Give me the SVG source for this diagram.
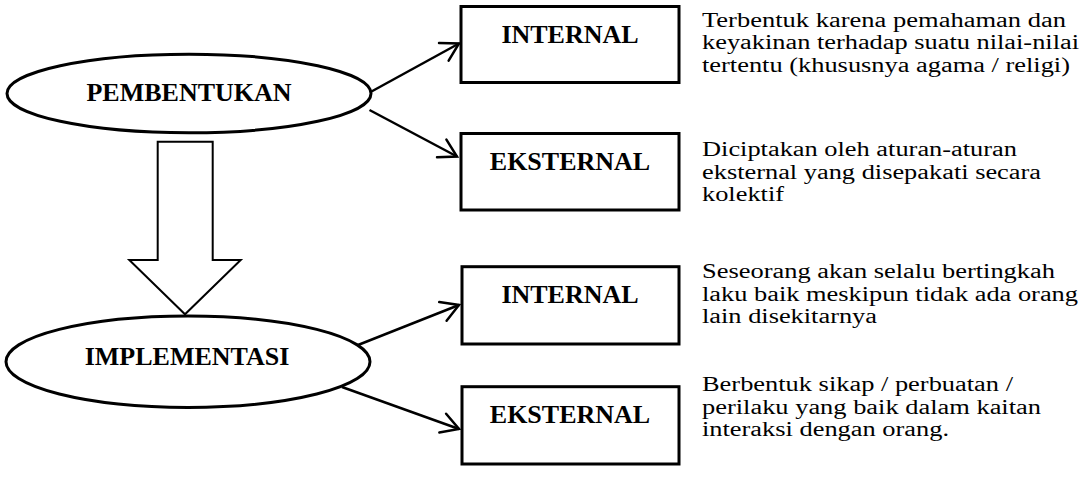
<svg xmlns="http://www.w3.org/2000/svg" width="1084" height="486" viewBox="0 0 1084 486">
<defs>
<style>
.node{fill:#fff;stroke:#000;stroke-width:3}
.lbl{font-family:"Liberation Serif","Times New Roman",serif;font-weight:bold;font-size:26px;fill:#000;text-anchor:middle}
.desc{font-family:"Liberation Serif","Times New Roman",serif;font-size:20.5px;fill:#000}
.conn{stroke:#000;stroke-width:2.5;fill:none;marker-end:url(#arr)}
</style>
<marker id="arr" markerUnits="userSpaceOnUse" viewBox="-20 -12 22 24" refX="0" refY="0" markerWidth="22" markerHeight="24" orient="auto" overflow="visible">
<path d="M-17.3,-10 L0,0 L-17.3,10" fill="none" stroke="#000" stroke-width="2.5" stroke-linecap="round"/>
</marker>
</defs>
<rect width="1084" height="486" fill="#fff"/>
<g id="connectors">
<line class="conn" x1="371.5" y1="91.5" x2="459" y2="43.5"/>
<line class="conn" x1="369.5" y1="110" x2="457" y2="156.5"/>
<line class="conn" x1="358" y1="345" x2="459" y2="305"/>
<line class="conn" x1="342" y1="387" x2="459" y2="429"/>
<path id="block-arrow" d="M157.7,141.7 L212.7,141.7 L212.7,260 L240.7,260 L185,314.3 L129.3,260 L157.7,260 Z" fill="#fff" stroke="#000" stroke-width="2"/>
</g>
<g id="pembentukan">
<ellipse class="node" cx="189" cy="93.5" rx="182" ry="39.3"/>
<text class="lbl" x="189" y="101">PEMBENTUKAN</text>
</g>
<g id="implementasi">
<ellipse class="node" cx="188" cy="361.7" rx="182" ry="45.7"/>
<text class="lbl" x="187" y="365">IMPLEMENTASI</text>
</g>
<g id="internal-1">
<rect class="node" x="461" y="6.5" width="218" height="76"/>
<text class="lbl" x="570" y="43.3">INTERNAL</text>
</g>
<g id="eksternal-1">
<rect class="node" x="461" y="133.5" width="218" height="76.5"/>
<text class="lbl" x="570" y="170">EKSTERNAL</text>
</g>
<g id="internal-2">
<rect class="node" x="462" y="266.7" width="217" height="77.3"/>
<text class="lbl" x="570" y="303.3">INTERNAL</text>
</g>
<g id="eksternal-2">
<rect class="node" x="462" y="386.7" width="217" height="77.3"/>
<text class="lbl" x="570" y="423.3">EKSTERNAL</text>
</g>
<g id="desc-1">
<text class="desc" x="702" y="26.5" textLength="364" lengthAdjust="spacingAndGlyphs">Terbentuk karena pemahaman dan</text>
<text class="desc" x="702" y="49" textLength="377" lengthAdjust="spacingAndGlyphs">keyakinan terhadap suatu nilai-nilai</text>
<text class="desc" x="702" y="71.5" textLength="368" lengthAdjust="spacingAndGlyphs">tertentu (khususnya agama / religi)</text>
</g>
<g id="desc-2">
<text class="desc" x="702" y="156" textLength="315" lengthAdjust="spacingAndGlyphs">Diciptakan oleh aturan-aturan</text>
<text class="desc" x="702" y="178.5" textLength="339" lengthAdjust="spacingAndGlyphs">eksternal yang disepakati secara</text>
<text class="desc" x="702" y="201" textLength="82" lengthAdjust="spacingAndGlyphs">kolektif</text>
</g>
<g id="desc-3">
<text class="desc" x="702" y="278" textLength="353" lengthAdjust="spacingAndGlyphs">Seseorang akan selalu bertingkah</text>
<text class="desc" x="702" y="300.5" textLength="376" lengthAdjust="spacingAndGlyphs">laku baik meskipun tidak ada orang</text>
<text class="desc" x="702" y="323" textLength="175" lengthAdjust="spacingAndGlyphs">lain disekitarnya</text>
</g>
<g id="desc-4">
<text class="desc" x="702" y="391" textLength="311" lengthAdjust="spacingAndGlyphs">Berbentuk sikap / perbuatan /</text>
<text class="desc" x="702" y="413.5" textLength="339" lengthAdjust="spacingAndGlyphs">perilaku yang baik dalam kaitan</text>
<text class="desc" x="702" y="436" textLength="247" lengthAdjust="spacingAndGlyphs">interaksi dengan orang.</text>
</g>
</svg>
